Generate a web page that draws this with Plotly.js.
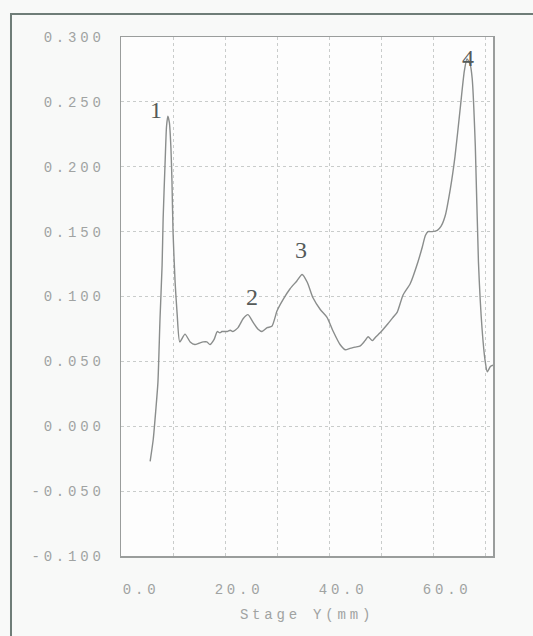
<!DOCTYPE html>
<html>
<head>
<meta charset="utf-8">
<script src="https://cdn.plot.ly/plotly-3.0.1.min.js"></script>
<style>
  html, body { margin: 0; padding: 0; background: #f8f9f8; }
  #chart { width: 533px; height: 636px; }
  .xtick text, .ytick text, .g-xtitle text { letter-spacing: 3.8px; }
</style>
</head>
<body>
<div id="chart"></div>
<script>
// Stage Y position (mm)
const stageY = [5.6, 6.2, 6.7, 7.1, 7.5, 7.9, 8.1, 8.5, 8.75, 9.0, 9.3, 9.6, 9.8, 10.0, 10.4, 10.8, 11.3,
  12.3, 13.3, 14.2, 15.0, 15.8, 16.5, 17.1, 17.9, 18.5, 19.0, 19.4, 20.4, 21.0, 21.5, 22.5, 23.5, 24.4,
  25.4, 26.3, 27.1, 28.1, 29.0, 30.0, 31.2, 32.5, 33.8, 34.8, 35.8, 36.9, 38.3, 39.6, 40.8, 42.1, 43.1,
  44.0, 45.0, 46.0, 46.9, 47.5, 48.3, 49.0, 49.8, 51.3, 52.3, 53.1, 54.2, 55.6, 57.1, 57.9, 58.5, 59.0,
  59.8, 60.8, 61.5, 62.3, 63.3, 64.2, 65.2, 66.0, 66.5, 67.1, 67.5, 68.1, 68.7, 69.4, 70.0, 70.4, 71.0, 71.5];
// Signal values
const signal = [-0.027, -0.010, 0.013, 0.034, 0.083, 0.124, 0.160, 0.206, 0.231, 0.239, 0.234, 0.214, 0.188, 0.150, 0.111, 0.086, 0.065,
  0.071, 0.065, 0.063, 0.064, 0.065, 0.065, 0.063, 0.067, 0.073, 0.072, 0.073, 0.073, 0.074, 0.073, 0.076, 0.083, 0.086,
  0.080, 0.075, 0.073, 0.076, 0.077, 0.089, 0.098, 0.106, 0.112, 0.117, 0.111, 0.099, 0.090, 0.084, 0.073, 0.063, 0.059,
  0.060, 0.061, 0.062, 0.066, 0.069, 0.066, 0.069, 0.072, 0.079, 0.084, 0.088, 0.101, 0.110, 0.127, 0.138, 0.147, 0.150,
  0.150, 0.151, 0.154, 0.162, 0.183, 0.208, 0.245, 0.274, 0.283, 0.279, 0.268, 0.216, 0.127, 0.075, 0.050, 0.042, 0.046, 0.047];

// Peak labels
const peakLabels = ["1", "2", "3", "4"];
const peakX = [6.7, 25.2, 34.6, 66.6];
const peakY = [0.244, 0.0996, 0.136, 0.284];

// Tick labels
const xTickVals = [0, 20, 40, 60];
const xTickText = ["\u00a00.0", "20.0", "40.0", "60.0"];
const yTickVals = [-0.1, -0.05, 0, 0.05, 0.1, 0.15, 0.2, 0.25, 0.3];
const yTickText = ["-0.100", "-0.050", "0.000", "0.050", "0.100", "0.150", "0.200", "0.250", "0.300"];

const tickFont = { family: "Liberation Mono, DejaVu Sans Mono, monospace", size: 14, color: "#a0a3a2" };
const gridColor = "#c9cccb";

const trace = {
  x: stageY, y: signal, type: "scatter", mode: "lines",
  line: { color: "#8a8d8c", width: 1.4, shape: "spline", smoothing: 0.6 },
  hoverinfo: "skip", showlegend: false
};

const layout = {
  width: 533, height: 636,
  margin: { l: 121, r: 40, t: 37, b: 80 },
  paper_bgcolor: "#f8f9f8",
  plot_bgcolor: "#fdfdfd",
  showlegend: false,
  xaxis: {
    range: [0, 71.5],
    tickvals: xTickVals, ticktext: xTickText,
    ticks: "", ticklabelshift: 14, ticklabelstandoff: 20,
    tickfont: tickFont,
    showgrid: true, gridcolor: gridColor, griddash: "dot", gridwidth: 1,
    minor: { dtick: 10, tick0: 0, showgrid: true, gridcolor: gridColor, griddash: "dot", gridwidth: 1, ticks: "" },
    showline: true, mirror: true, linecolor: "#9a9d9c", linewidth: 1.5,
    zeroline: false,
    title: { text: "Stage Y(mm)", font: tickFont, standoff: 12 }
  },
  yaxis: {
    range: [-0.1, 0.3],
    tickvals: yTickVals, ticktext: yTickText,
    ticks: "", ticklabelstandoff: 12,
    tickfont: tickFont,
    showgrid: true, gridcolor: gridColor, griddash: "dot", gridwidth: 1,
    showline: true, mirror: true, linecolor: "#9a9d9c", linewidth: 1.5,
    zeroline: false
  },
  annotations: peakLabels.map((t, i) => ({
    x: peakX[i], y: peakY[i], xref: "x", yref: "y", text: t, showarrow: false,
    font: { family: "Liberation Serif, DejaVu Serif, serif", size: 24, color: "#555a58" },
    xanchor: "center", yanchor: "middle"
  })),
  shapes: [{
    type: "path", xref: "paper", yref: "paper",
    path: "M -0.2957,-0.16 L -0.2957,1.0443 L 1.11,1.0443",
    line: { color: "#6f7d78", width: 2 }
  }]
};

Plotly.newPlot("chart", [trace], layout, { staticPlot: true, displayModeBar: false });
</script>
</body>
</html>
